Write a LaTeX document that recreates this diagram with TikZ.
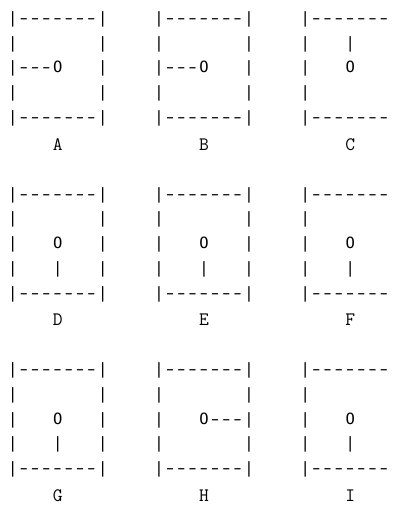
\documentclass[tikz,border=0pt]{standalone}
\usepackage{graphicx}
\usepackage{fontspec}
\newfontfamily\artfont{DejaVu Sans Mono}
\newlength\cw \setlength\cw{11.25pt}
\def\artloop#1{\ifx#1\relax\else\makebox[\cw][c]{\ifx#1-\scalebox{1.55}[1]{-}\else#1\fi}\expandafter\artloop\fi}
\newcommand\artline[1]{\artloop#1\relax}
\tikzset{
  art/.style={anchor=base west, inner sep=0pt, outer sep=0pt, font=\artfont\fontsize{15.5}{15.5}\selectfont},
  lab/.style={anchor=base, inner sep=0pt, outer sep=0pt, font=\ttfamily\fontsize{19}{19}\selectfont}
}
\begin{document}
\begin{tikzpicture}[x=1pt,y=-1pt]
\useasboundingbox[fill=white] (0,0) rectangle (395,505);
% group 1 (top rows at 19, step 24.75)
\node[art] (a1) at (7.1,23.5) {\artline{|-------|~~~~|-------|~~~~|-------}};
\node[art] (a2) at (7.1,48.25) {\artline{|~~~~~~~|~~~~|~~~~~~~|~~~~|~~~|}};
\node[art] (a3) at (7.1,73) {\artline{|---O~~~|~~~~|---O~~~|~~~~|~~~O}};
\node[art] (a4) at (7.1,97.75) {\artline{|~~~~~~~|~~~~|~~~~~~~|~~~~|}};
\node[art] (a5) at (7.1,122.5) {\artline{|-------|~~~~|-------|~~~~|-------}};
\node[lab] (lA) at (57.7,150) {A};
\node[lab] (lB) at (203.95,150) {B};
\node[lab] (lC) at (350.2,150) {C};
% group 2
\node[art] (b1) at (7.1,199) {\artline{|-------|~~~~|-------|~~~~|-------}};
\node[art] (b2) at (7.1,223.75) {\artline{|~~~~~~~|~~~~|~~~~~~~|~~~~|}};
\node[art] (b3) at (7.1,248.5) {\artline{|~~~O~~~|~~~~|~~~O~~~|~~~~|~~~O}};
\node[art] (b4) at (7.1,273.25) {\artline{|~~~|~~~|~~~~|~~~|~~~|~~~~|~~~|}};
\node[art] (b5) at (7.1,298) {\artline{|-------|~~~~|-------|~~~~|-------}};
\node[lab] (lD) at (57.7,325.5) {D};
\node[lab] (lE) at (203.95,325.5) {E};
\node[lab] (lF) at (350.2,325.5) {F};
% group 3
\node[art] (c1) at (7.1,374.5) {\artline{|-------|~~~~|-------|~~~~|-------}};
\node[art] (c2) at (7.1,399.25) {\artline{|~~~~~~~|~~~~|~~~~~~~|~~~~|}};
\node[art] (c3) at (7.1,424) {\artline{|~~~O~~~|~~~~|~~~O---|~~~~|~~~O}};
\node[art] (c4) at (7.1,448.75) {\artline{|~~~|~~~|~~~~|~~~~~~~|~~~~|~~~|}};
\node[art] (c5) at (7.1,473.5) {\artline{|-------|~~~~|-------|~~~~|-------}};
\node[lab] (lG) at (57.7,501) {G};
\node[lab] (lH) at (203.95,501) {H};
\node[lab] (lI) at (350.2,501) {I};
\end{tikzpicture}
\end{document}
